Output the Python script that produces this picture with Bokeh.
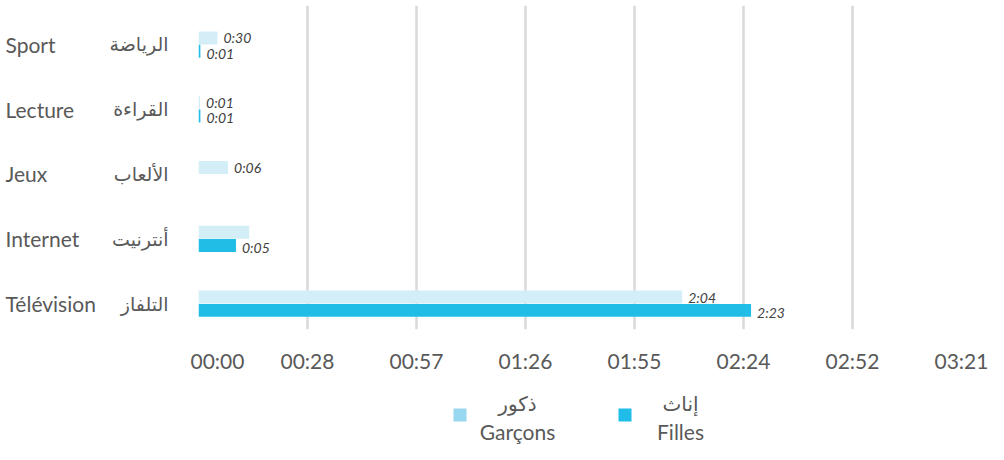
from bokeh.plotting import figure
from bokeh.models import ColumnDataSource, FactorRange, Range1d, FixedTicker
from bokeh.layouts import row, column
from bokeh.transform import dodge
from bokeh.core.properties import value
from bokeh.embed import file_html
from bokeh.resources import INLINE

# ---- data (minutes) ----
categories_fr = ["Sport", "Lecture", "Jeux", "Internet", "Télévision"]
categories_ar = ["الرياضة", "القراءة", "الألعاب", "أنترنيت", "التلفاز"]
garcons_min = [5.0, 0.4, 7.8, 13.4, 127.8]
filles_min = [0.5, 0.5, 0.0, 9.9, 146.0]
garcons_labels = ["0:30", "0:01", "0:06", "", "2:04"]
filles_labels = ["0:01", "0:01", "", "0:05", "2:23"]
tick_values = [0, 28.8, 57.6, 86.4, 115.2, 144.0, 172.8, 201.6]
tick_labels = ["00:00", "00:28", "00:57", "01:26", "01:55", "02:24", "02:52", "03:21"]
series_fr = ["Garçons", "Filles"]
series_ar = ["ذكور", "إناث"]

C_G = "#D3EEF7"
C_F = "#22BDE7"
C_G_LEG = "#97D8F0"
C_F_LEG = "#1FBDE8"
TXT = "#595959"

W = 988
LEFT_W = 190
MAIN_H = 380
LEG_H = 64

yr = FactorRange(factors=categories_fr[::-1])

src = ColumnDataSource(dict(cat=categories_fr, ar=categories_ar, g=garcons_min,
                            f=filles_min, gl=garcons_labels, fl=filles_labels))

# ---- main plot ----
p = figure(width=W - LEFT_W, height=MAIN_H, output_backend="svg", toolbar_location=None,
           y_range=yr, x_range=Range1d(0, tick_values[-1]),
           min_border_left=8, min_border_right=27, min_border_top=5,
           min_border_bottom=51)
p.outline_line_color = None
p.yaxis.visible = False
p.ygrid.visible = False
p.xgrid.grid_line_color = "#D9D9D9"
p.xgrid.grid_line_width = 2.5
p.xaxis.ticker = FixedTicker(ticks=tick_values)
p.xaxis.major_label_overrides = {v: l for v, l in zip(tick_values, tick_labels)}
p.xaxis.axis_line_color = None
p.xaxis.major_tick_line_color = None
p.xaxis.minor_tick_line_color = None
p.xaxis.major_label_text_font = "Lato"
p.xaxis.major_label_text_font_size = "21px"
p.xaxis.major_label_text_color = TXT
p.xaxis.major_label_standoff = 12

p.hbar(y=dodge("cat", 0.0, range=yr), left=0, right="g", height=0.2,
       fill_color=C_G, line_color=None, source=src)
p.hbar(y=dodge("cat", -0.205, range=yr), left=0, right="f", height=0.2,
       fill_color=C_F, line_color=None, source=src)

lab_kw = dict(text_baseline="middle", text_font=value("Lato"), text_font_style="italic",
              text_font_size="14px", text_color="#404040", x_offset=6, source=src)
p.text(x="g", y=dodge("cat", 0.0, range=yr), text="gl", **lab_kw)
p.text(x="f", y=dodge("cat", -0.205, range=yr), text="fl", y_offset=2, **lab_kw)

# ---- category labels ----
pl = figure(width=LEFT_W, height=MAIN_H, output_backend="svg", toolbar_location=None,
            y_range=yr, x_range=Range1d(0, LEFT_W),
            min_border_left=0, min_border_right=0, min_border_top=5, min_border_bottom=51)
pl.outline_line_color = None
pl.axis.visible = False
pl.grid.visible = False
pl.text(x=5, y=dodge("cat", -0.1, range=yr), text="cat", source=src,
        text_align="left", text_baseline="middle", text_font=value("Lato"),
        text_font_size="21px", text_color=TXT)
pl.text(x=168, y=dodge("cat", -0.1, range=yr), text="ar", source=src,
        text_align="right", text_baseline="middle", text_font=value("DejaVu Sans"),
        text_font_size="19px", text_color=TXT)

# ---- legend ----
lg = figure(width=W, height=LEG_H, output_backend="svg", toolbar_location=None,
            x_range=Range1d(0, W), y_range=Range1d(LEG_H, 0),
            min_border_left=0, min_border_right=0, min_border_top=0, min_border_bottom=0)
lg.outline_line_color = None
lg.axis.visible = False
lg.grid.visible = False
leg_src = ColumnDataSource(dict(
    fr=series_fr, ar=series_ar, col=[C_G_LEG, C_F_LEG],
    sq_l=[453, 618], tx=[517, 680]))
lg.quad(left="sq_l", right=dodge("sq_l", 13), top=28, bottom=41, fill_color="col",
        line_color=None, source=leg_src)
lg.text(x="tx", y=23, text="ar", source=leg_src, text_align="center",
        text_baseline="middle", text_font=value("DejaVu Sans"), text_font_size="20px",
        text_color=TXT)
lg.text(x="tx", y=51, text="fr", source=leg_src, text_align="center",
        text_baseline="middle", text_font=value("Lato"), text_font_size="21px",
        text_color=TXT)

layout = column(row(pl, p), lg)
open("out.html", "w").write(file_html(layout, INLINE))
